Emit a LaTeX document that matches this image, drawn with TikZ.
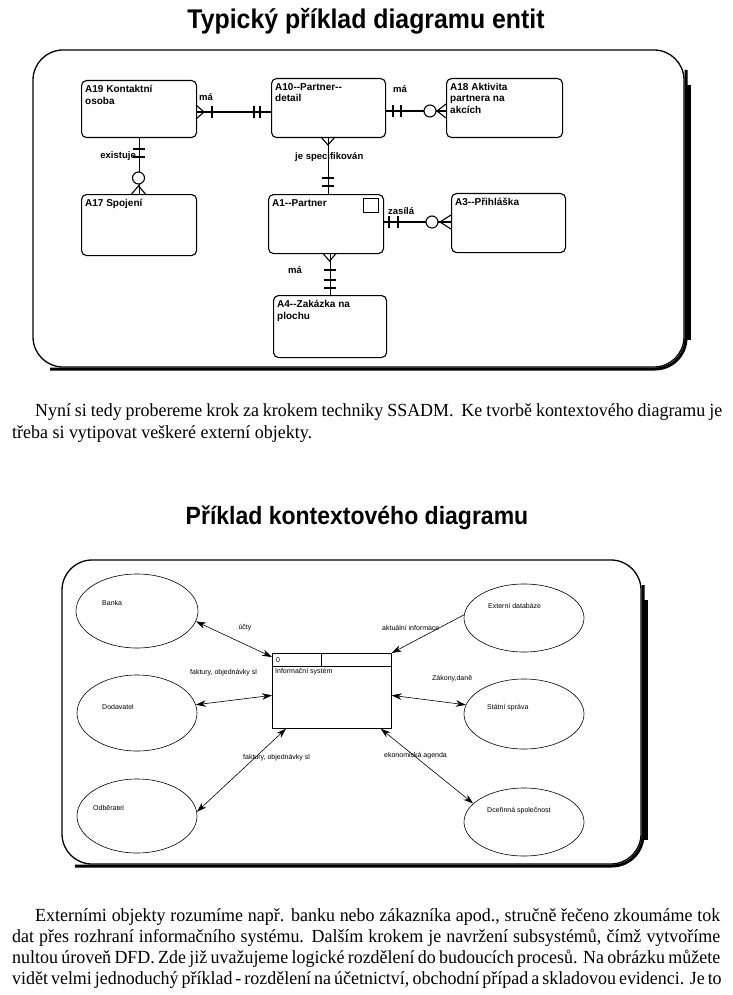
\documentclass[tikz,border=0pt]{standalone}
\usepackage{fontspec}
\setmainfont{Liberation Serif}
\newfontfamily\sansf{Liberation Sans}
\newfontfamily\titlef[FakeStretch=0.92]{Liberation Sans}
\newfontfamily\bodyf[FakeStretch=0.97]{Liberation Serif}
\usetikzlibrary{shapes.geometric,arrows.meta}
\begin{document}
\begin{tikzpicture}[x=1pt,y=-1pt,
  frame/.style={line width=1.3pt, rounded corners=30pt},
  titletxt/.style={font=\titlef\bfseries\fontsize{25}{30}\selectfont, inner sep=0, anchor=base},
  entbox/.style={draw, line width=1.1pt, rounded corners=5pt, inner sep=0, anchor=north west},
  etext/.style={font=\sansf\bfseries\fontsize{10}{11.5}\selectfont, align=left, anchor=north west, inner sep=0},
  rlab/.style={font=\sansf\bfseries\fontsize{9.5}{11}\selectfont, inner sep=0},
  erl/.style={line width=1.1pt},
  ringo/.style={line width=1.1pt, fill=white},
  ctxell/.style={draw, ellipse, line width=0.6pt, inner sep=0},
  ctxbox/.style={draw, line width=0.7pt, inner sep=0, anchor=north west},
  clab/.style={font=\sansf\fontsize{7}{8}\selectfont, inner sep=0},
  carr/.style={line width=0.6pt, {Stealth[length=10pt,width=6.5pt]}-{Stealth[length=10pt,width=6.5pt]}},
  carrone/.style={line width=0.6pt, -{Stealth[length=10pt,width=6.5pt]}},
  bodytxt/.style={font=\bodyf\fontsize{18.5}{22}\selectfont, inner sep=0, anchor=base west}
]
\useasboundingbox (0,0) rectangle (732,995);
\fill[white] (0,0) rectangle (732,995);

% ---------- title 1 ----------
\node[titletxt, font=\titlef\bfseries\fontsize{27}{30}\selectfont] (title1) at (366,29) {Typický příklad diagramu entit};

% ---------- frame 1 ----------
\draw[frame] (33,50) rectangle (684,367);
\draw[line width=3pt, rounded corners=31pt] (686,70) -- (686,369) -- (50,369);
\draw[line width=6pt] (688,85) -- (688,340);

% ---------- entities ----------
\node[entbox, minimum width=115pt, minimum height=57pt] (a19) at (81,80) {};
\node[entbox, minimum width=114pt, minimum height=59pt] (a10) at (271,78) {};
\node[entbox, minimum width=116pt, minimum height=59pt] (a18) at (446,78) {};
\node[entbox, minimum width=115pt, minimum height=61pt] (a17) at (81,194) {};
\node[entbox, minimum width=115pt, minimum height=59pt] (a1) at (268,194) {};
\node[entbox, minimum width=114pt, minimum height=59pt] (a3) at (451,193) {};
\node[entbox, minimum width=113pt, minimum height=62pt] (a4) at (273,295) {};

\node[etext] (ta19) at (85,85) {A19 Kontaktní\\osoba};
\node[etext] (ta10) at (275,83) {A10--Partner--\\detail};
\node[etext] (ta18) at (450,83) {A18 Aktivita\\partnera na\\akcích};
\node[etext] (ta17) at (85,199) {A17 Spojení};
\node[etext] (ta1) at (272,199) {A1--Partner};
\node[etext] (ta3) at (455,198) {A3--Přihláška};
\node[etext] (ta4) at (277,300) {A4--Zakázka na\\plochu};
\draw[line width=1pt] (363,198) rectangle (378,212);

% A19 -- A10
\draw[erl] (a19.east |- 0,112) -- (a10.west |- 0,112);
\draw[erl] (196,105) -- (204,112) -- (196,119);
\draw[erl] (212,106) -- (212,118);
\draw[erl] (254,106) -- (254,118);
\draw[erl] (260,106) -- (260,118);
\node[rlab, anchor=west] (l1) at (199,97) {má};

% A10 -- A18
\draw[erl] (a10.east |- 0,111) -- (a18.west |- 0,111);
\draw[erl] (393,105) -- (393,117);
\draw[erl] (401,105) -- (401,117);
\draw[erl] (446,104) -- (437,111) -- (446,118);
\draw[ringo] (430,111) circle[radius=6pt];
\node[rlab, anchor=west] (l2) at (393,89) {má};

% A19 -- A17
\draw[erl] (a19.south) -- (a17.north);
\draw[erl] (132.5,149) -- (144.5,149);
\draw[erl] (132.5,157) -- (144.5,157);
\draw[erl] (131.5,194) -- (138.5,186) -- (145.5,194);
\draw[ringo] (138.5,178) circle[radius=6pt];
\node[rlab, anchor=east] (l3) at (136,156) {existuje};

% A10 -- A1
\draw[erl] (a10.south) -- (a10.south |- a1.north);
\draw[erl] (321,137) -- (328,145) -- (335,137);
\draw[erl] (322,178) -- (334,178);
\draw[erl] (322,186) -- (334,186);
\node[rlab, anchor=west] (l4) at (295,157) {je specifikován};

% A1 -- A3
\draw[erl] (a1.east |- 0,222) -- (a3.west |- 0,222);
\draw[erl] (389,216) -- (389,228);
\draw[erl] (398,216) -- (398,228);
\draw[erl] (451,215) -- (440,222) -- (451,229);
\draw[ringo] (432,222) circle[radius=6pt];
\node[rlab, anchor=west] (l5) at (388,211) {zasílá};

% A1 -- A4
\draw[erl] (a4.north |- a1.south) -- (a4.north);
\draw[erl] (322.5,253) -- (329.5,261) -- (336.5,253);
\draw[erl] (323.5,270) -- (335.5,270);
\draw[erl] (323.5,280) -- (335.5,280);
\draw[erl] (323.5,288) -- (335.5,288);
\node[rlab, anchor=west] (l6) at (288,270) {má};

% ---------- paragraph 1 ----------
\node[bodytxt] (p1a) at (35,416) {\makebox[687pt][s]{Nyní si tedy probereme krok za krokem techniky SSADM.\ \ Ke tvorbě kontextového diagramu je}};
\node[bodytxt] (p1b) at (12,438) {třeba si vytipovat veškeré externí objekty.};

% ---------- title 2 ----------
\node[titletxt] (title2) at (357,524) {Příklad kontextového diagramu};

% ---------- frame 2 ----------
\draw[frame] (62,560) rectangle (641,864);
\draw[line width=3pt, rounded corners=31pt] (643,585) -- (643,866) -- (75,866);
\draw[line width=6pt] (645,600) -- (645,840);

% ellipses
\node[ctxell, minimum width=122pt, minimum height=74pt] (banka) at (137,611) {};
\node[ctxell, minimum width=120pt, minimum height=76pt] (dodav) at (137,713) {};
\node[ctxell, minimum width=120pt, minimum height=74pt] (odber) at (137,816) {};
\node[ctxell, minimum width=120pt, minimum height=68pt] (extdb) at (524,618) {};
\node[ctxell, minimum width=120pt, minimum height=70pt] (statni) at (524,714) {};
\node[ctxell, minimum width=120pt, minimum height=68pt] (dcer) at (524,822) {};

\node[clab, anchor=west] (tb) at (102,603) {Banka};
\node[clab, anchor=west] (td) at (102,707) {Dodavatel};
\node[clab, anchor=west] (to) at (93,808) {Odběratel};
\node[clab, anchor=west] (te) at (488,606) {Externí databáze};
\node[clab, anchor=west] (ts) at (487,708) {Státní správa};
\node[clab, anchor=west] (tc) at (487,811) {Dceřinná společnost};

% information system box
\node[ctxbox, minimum width=119pt, minimum height=75pt] (isys) at (272,653) {};
\draw[line width=0.6pt] ([yshift=-13pt]isys.north west) -- ([yshift=-13pt]isys.north east);
\draw[line width=0.6pt] ([xshift=49pt]isys.north west) -- ([xshift=49pt,yshift=-13pt]isys.north west);
\node[clab, anchor=west] (t0) at (276,660) {0};
\node[clab, anchor=west] (tis) at (275,672) {Informační systém};

% flows
\draw[carr] (banka.-10) -- ([yshift=-4pt]isys.north west);
\draw[carr] (dodav.8) -- ([yshift=-4.5pt]isys.west);
\draw[carr] (odber.4) -- ([xshift=14pt]isys.south west);
\draw[carrone] (extdb.177) -- (isys.north east);
\draw[carr] (statni.171) -- ([yshift=-4.5pt]isys.east);
\draw[carr] (dcer.160) -- ([xshift=-11pt]isys.south east);

\node[clab] (lu) at (245,628) {účty};
\node[clab, anchor=west] (lf1) at (190,673) {faktury, objednávky sl};
\node[clab, anchor=west] (lf2) at (243,758) {faktury, objednávky sl};
\node[clab, anchor=west] (la) at (382,628) {aktuální informace};
\node[clab, anchor=west] (lz) at (432,679) {Zákony,daně};
\node[clab, anchor=west] (le) at (384,756) {ekonomická agenda};

% ---------- paragraph 2 ----------
\node[bodytxt] (p2a) at (35,921) {\makebox[685pt][s]{Externími objekty rozumíme např. banku nebo zákazníka apod., stručně řečeno zkoumáme tok}};
\node[bodytxt] (p2b) at (12,942) {\makebox[708pt][s]{dat přes rozhraní informačního systému. Dalším krokem je navržení subsystémů, čímž vytvoříme}};
\node[bodytxt] (p2c) at (12,963) {\makebox[708pt][s]{nultou úroveň DFD. Zde již uvažujeme logické rozdělení do budoucích procesů. Na obrázku můžete}};
\node[bodytxt] (p2d) at (12,984) {\makebox[708pt][s]{vidět velmi jednoduchý příklad - rozdělení na účetnictví, obchodní případ a skladovou evidenci. Je to}};
\end{tikzpicture}
\end{document}
